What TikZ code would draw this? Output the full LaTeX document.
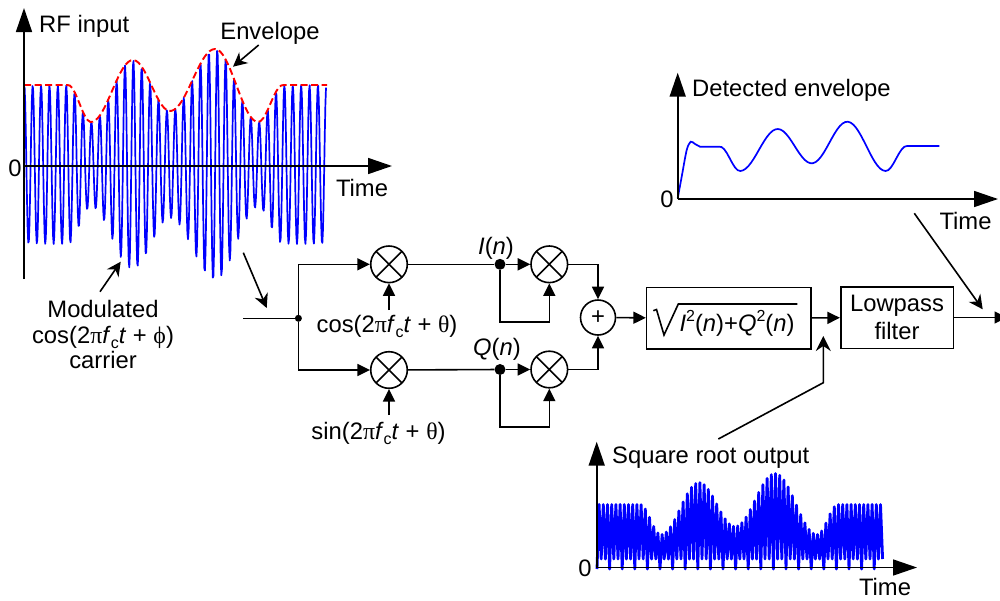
\documentclass[tikz,border=0pt]{standalone}
\usepackage{fontspec}
\setmainfont{Liberation Sans}
\newfontfamily\gk{Liberation Serif}
\usetikzlibrary{arrows.meta,calc}
\newcommand{\subc}{\raisebox{-.22em}{\fontsize{16}{16}\selectfont c}}
\newcommand{\supt}{\raisebox{.42em}{\fontsize{16}{16}\selectfont 2}}
\tikzset{
  declare function={
    cs(\x,\a,\b,\p,\q)=\p+(\q-\p)*(1-cos(180/(\b-\a)*(\x-\a)))/2;
    envr(\x)=(\x<68)?81:((\x<91)?cs(\x,68,91,81,44):((\x<133)?cs(\x,91,133,44,106):((\x<170)?cs(\x,133,170,106,55):((\x<215)?cs(\x,170,215,55,117):((\x<258)?cs(\x,215,258,117,44):((\x<283)?cs(\x,258,283,44,81):81))))));
    envs(\x)=(\x<640)?63:((\x<661)?cs(\x,640,661,63,33):((\x<699)?cs(\x,661,699,33,85):((\x<735)?cs(\x,699,735,85,41):((\x<775)?cs(\x,735,775,41,94):((\x<817)?cs(\x,775,817,94,33):((\x<838)?cs(\x,817,838,33,63):63))))));
    envd(\x)=(\x<720)?146.7:((\x<740)?cs(\x,720,740,146.7,171):((\x<777.7)?cs(\x,740,777.7,171,129):((\x<811.7)?cs(\x,777.7,811.7,129,163.3):((\x<847.3)?cs(\x,811.7,847.3,163.3,121.7):((\x<885.7)?cs(\x,847.3,885.7,121.7,171):((\x<906.7)?cs(\x,885.7,906.7,171,146):146))))));
    carr(\x)=cos(42.908*(\x-24.3));
  },
  lblfont/.style={inner sep=0,font=\fontsize{23.8}{25.5}\selectfont,text=black},
  lbl/.style={lblfont,yshift=-1.5pt},
  line/.style={line width=1.6pt,black},
  blockarr/.style={line,-{Triangle[length=12.5pt,width=12pt]}},
  axisarr/.style={line,-{Triangle[length=24pt,width=16pt]}},
  ptr/.style={line,-{Stealth[length=14pt,width=14pt,inset=4.5pt]}},
  wave/.style={line width=1.7pt,color={rgb,255:red,0;green,0;blue,255}},
  mixer/.style={circle,draw,line width=1.6pt,minimum size=36.6pt,inner sep=0,
    path picture={\draw[line width=1.6pt] (path picture bounding box.north west)--(path picture bounding box.south east)
      (path picture bounding box.north east)--(path picture bounding box.south west);}},
  summer/.style={circle,draw,line width=1.6pt,minimum size=35pt,inner sep=0,font=\fontsize{23.8}{28}\selectfont},
  blockbox/.style={draw,line width=1.6pt,inner sep=0,align=center},
  dotnode/.style={circle,fill=black,inner sep=0},
}
\begin{document}
\begin{tikzpicture}[x=1pt,y=-1pt]
\useasboundingbox (0,0) rectangle (1000,600);
% RF waveform
\draw[wave,line join=round] plot[domain=24:326,samples=500,variable=\x] (\x,{166-(envr(\x)-(carr(\x)>0?0:3))*carr(\x)});
\draw[line width=1.9pt,red,dash pattern=on 7pt off 3.5pt] plot[domain=24:327,samples=120,variable=\x] (\x,{166-envr(\x)});
\coordinate (a1b) at (24,279); \coordinate (a1t) at (24,8);
\coordinate (a1o) at (24,166); \coordinate (a1r) at (392,166);
\draw[axisarr] (a1b)--(a1t);
\draw[axisarr] (a1o)--(a1r);
\node[lbl,anchor=west] (rf) at (39,25) {RF input};
\node[lbl] (envl) at (270,31.5) {Envelope};
\node[lbl] (z1) at (15,166.5) {0};
\node[lbl] (t1) at (362,186.5) {Time};
\node[lbl,align=center] (mod) at (103,333) {Modulated\\cos(2{\gk π}\textit{f}\subc\textit{t} + {\gk ϕ})\\carrier};
\coordinate (p1a) at (258.7,45); \coordinate (p1b) at (233,66.7);
\draw[ptr] (p1a)--(p1b);
\coordinate (p2a) at (100,291.7); \coordinate (p2b) at (120.7,261.7);
\draw[ptr] (p2a)--(p2b);
\coordinate (p3a) at (243.3,252.7); \coordinate (p3b) at (266.7,308);
\draw[ptr] (p3a)--(p3b);
% Block diagram
\coordinate (in) at (243,318.3);
\node[dotnode,minimum size=7pt] (j) at (298.4,318.3) {};
\node[mixer] (m1) at (389,264.3) {};
\node[mixer] (m2) at (389,370) {};
\node[mixer] (m3) at (549.3,264.3) {};
\node[mixer] (m4) at (549.3,369.5) {};
\node[summer] (sum) at (598,317.5) {+};
\node[dotnode,minimum size=11pt] (di) at (500,264.3) {};
\node[dotnode,minimum size=11pt] (dq) at (500,369.5) {};
\draw[line] (in)--(j);
\draw[blockarr] (j)|-(m1);
\draw[blockarr] (j)|-(m2);
\draw[line] (m1)--(di);
\draw[line] (m2)--(dq);
\draw[blockarr] (di)--(m3);
\draw[blockarr] (dq)--(m4);
\coordinate (li) at (500,321.7); \coordinate (lq) at (500,426.7);
\draw[blockarr] (di)--(li)-|(m3);
\draw[blockarr] (dq)--(lq)-|(m4);
\draw[blockarr] (m3)-|(sum);
\draw[blockarr] (m4)-|(sum);
\node[lbl] (ct) at (387,325) {cos(2{\gk π}\textit{f}\subc\textit{t} + {\gk θ})};
\node[lbl] (st) at (378.5,432) {sin(2{\gk π}\textit{f}\subc\textit{t} + {\gk θ})};
\coordinate (c1) at (389,310); \coordinate (c2) at (389,415);
\draw[blockarr] (c1)--(m1);
\draw[blockarr] (c2)--(m2);
\node[lbl] (il) at (496,246.5) {\textit{I}(\textit{n})};
\node[lbl] (ql) at (497,347.5) {\textit{Q}(\textit{n})};
\node[blockbox,minimum width=164.3pt,minimum height=61.3pt] (sq) at (728.8,318.3) {};
\node[lbl] (sqt) at (737,322) {\textit{I}\supt(\textit{n})+\textit{Q}\supt(\textit{n})};
\coordinate (s1) at (653.3,310.7); \coordinate (s2) at (656.5,309.5); \coordinate (s3) at (664,335); \coordinate (s4) at (678.3,304); \coordinate (s5) at (797.3,304);
\draw[line,line join=miter] (s1)--(s2)--(s3)--(s4)--(s5);
\node[blockbox,minimum width=112.6pt,minimum height=61.6pt,lblfont,draw,line width=1.6pt,align=center] (lp) at (897,317.5) {Lowpass\\[2.5pt]filter};
\draw[blockarr] (sum)--(sq);
\draw[blockarr] (sq)--(lp);
\coordinate (out) at (1007,317.5);
\draw[blockarr] (lp)--(out);
% Detected envelope
\coordinate (a2o) at (677.7,199); \coordinate (a2t) at (677.7,72.7); \coordinate (a2r) at (998,199);
\draw[wave] plot[smooth,tension=0.5] coordinates {(677.7,198.3)(681.7,176.7)(686.7,150)(690.7,141.7)(695,144)(700,146.7)} -- plot[domain=700:939.3,samples=90,variable=\x] (\x,{envd(\x)});
\draw[axisarr] (a2o)--(a2t);
\draw[axisarr] (a2o)--(a2r);
\node[lbl,anchor=west] (de) at (692,88.5) {Detected envelope};
\node[lbl] (z2) at (667,198) {0};
\node[lbl] (t2) at (965.5,219) {Time};
\coordinate (p4a) at (914.3,213.3); \coordinate (p4b) at (982.7,309.3);
\draw[ptr] (p4a)--(p4b);
% Square root output
\draw[wave,line width=2.8pt,line join=round] plot[domain=0:136,samples=137,variable=\t] ({597+2.1*\t},{isodd(round(\t))?567.5-envs(597+2.1*\t):(mod(round(\t),6)==0?569:559)});
\coordinate (a3o) at (596.7,567.5); \coordinate (a3t) at (596.7,441.7); \coordinate (a3r) at (917,567.5);
\draw[axisarr] (a3o)--(a3t);
\draw[axisarr] (a3o)--(a3r);
\node[lbl,anchor=west] (sr) at (612,456.5) {Square root output};
\node[lbl] (z3) at (585,566.5) {0};
\node[lbl] (t3) at (885,585.5) {Time};
\coordinate (p5a) at (718.3,439); \coordinate (p5b) at (823.3,382.7); \coordinate (p5c) at (823.3,336);
\draw[line,-{Stealth[length=15pt,width=15pt,inset=5pt]}] (p5a)--(p5b)--(p5c);
\end{tikzpicture}
\end{document}
